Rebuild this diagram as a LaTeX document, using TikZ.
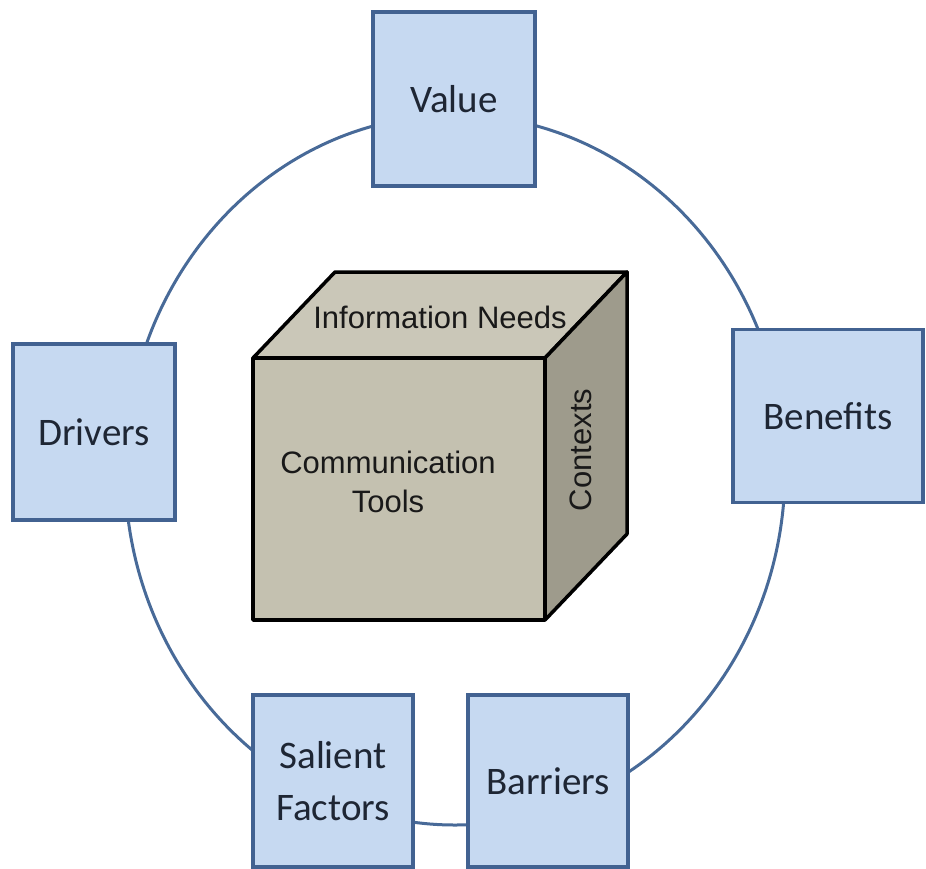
\documentclass[tikz,border=0pt]{standalone}
\usepackage{fontspec}
\setmainfont{Carlito}
\newfontfamily\arialfont{Liberation Sans}

\definecolor{boxfill}{RGB}{198,217,241}
\definecolor{boxline}{RGB}{66,98,145}
\definecolor{ringline}{RGB}{72,106,152}
\definecolor{boxtext}{RGB}{30,38,52}
\definecolor{cubefront}{RGB}{196,193,176}
\definecolor{cubetop}{RGB}{202,199,184}
\definecolor{cubeside}{RGB}{158,155,140}

\begin{document}
\begin{tikzpicture}[x=1pt,y=-1pt,
    factor/.style={draw=boxline,fill=boxfill,line width=3.5pt,align=center,
        text=boxtext,font=\fontsize{39}{52}\selectfont},
    face/.style={draw=black,line width=3.5pt,line join=round},
    cubelabel/.style={font=\arialfont\fontsize{31}{39}\selectfont,align=center,text=black!90}]
    \useasboundingbox (0,0) rectangle (926,868);

    % Ring
    \draw[ringline,line width=3pt] (455,470) ellipse [x radius=330pt, y radius=355pt];

    % Faktoren auf dem Ring
    \node[factor,minimum width=162pt,minimum height=174pt] (value) at (454,99) {Value};
    \node[factor,minimum width=162pt,minimum height=176pt] (drivers) at (94,432) {Drivers};
    \node[factor,minimum width=190pt,minimum height=173pt] (benefits) at (828,416) {Benefits};
    \node[factor,minimum width=160pt,minimum height=172pt] (salient) at (333,781) {Salient\\Factors};
    \node[factor,minimum width=160pt,minimum height=172pt] (barriers) at (548,781) {Barriers};

    % Wuerfel
    \coordinate (fa) at (253,358); % vorne oben links
    \coordinate (fb) at (545,358); % vorne oben rechts
    \coordinate (fc) at (545,620); % vorne unten rechts
    \coordinate (fd) at (253,620); % vorne unten links
    \coordinate (ba) at (335,272);
    \coordinate (bb) at (627,272);
    \coordinate (bc) at (627,534);
    \draw[face,fill=cubetop] (fa) -- (ba) -- (bb) -- (fb) -- cycle;
    \draw[face,fill=cubeside] (fb) -- (bb) -- (bc) -- (fc) -- cycle;
    \draw[face,fill=cubefront] (fa) -- (fb) -- (fc) -- (fd) -- cycle;

    \node[cubelabel] (needs) at (440,317) {Information Needs};
    \node[cubelabel] (tools) at (388,482) {Communication\\Tools};
    \node[cubelabel,rotate=90] (contexts) at (581,450) {Contexts};
\end{tikzpicture}
\end{document}
